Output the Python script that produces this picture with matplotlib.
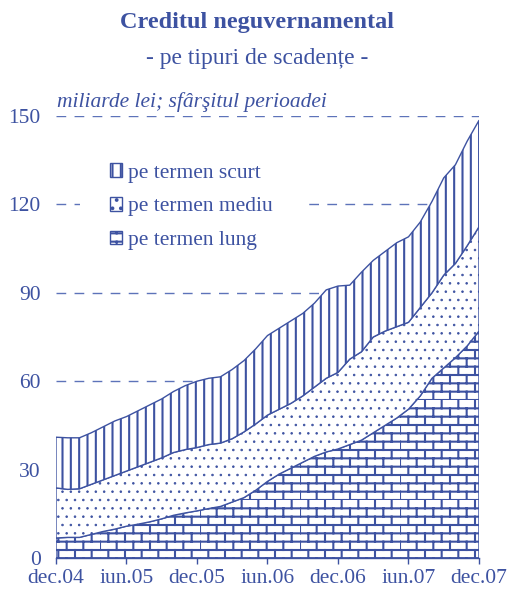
#!/usr/bin/env python3

import numpy as np
import matplotlib
matplotlib.use("Agg")
import matplotlib.pyplot as plt
from matplotlib import hatch as mhatch
from matplotlib.path import Path

# monthly stocks, dec.04 .. dec.07 (bn lei)
months = list(range(37))
tick_labels = ["dec.04", "iun.05", "dec.05", "iun.06", "dec.06", "iun.07", "dec.07"]
lung = [6.8, 7.0, 7.0, 8.0, 9.0, 9.8, 10.8, 11.5, 12.3, 13.3, 14.5, 15.3,
        16.0, 16.8, 17.5, 19.0, 20.5, 23.0, 26.0, 28.5, 30.5, 32.5, 34.5, 36.0,
        37.0, 38.5, 40.0, 42.5, 45.0, 47.5, 50.5, 55.0, 61.0, 64.5, 68.0, 72.0,
        77.0]
mediu = [17.0, 16.3, 16.5, 17.0, 17.5, 18.2, 18.7, 19.5, 20.2, 20.7, 21.3, 21.5,
         21.5, 21.7, 21.5, 21.5, 22.3, 22.5, 22.5, 22.0, 22.0, 22.5, 23.5, 25.0,
         26.0, 29.0, 30.0, 32.5, 32.0, 31.0, 29.5, 30.0, 29.0, 31.5, 32.0, 34.0,
         35.4]
scurt = [17.2, 17.5, 17.3, 17.5, 18.0, 18.5, 18.5, 19.0, 19.5, 20.0, 20.7, 21.7,
         22.5, 22.5, 22.5, 23.5, 24.2, 25.5, 27.0, 27.5, 28.0, 28.0, 28.5, 30.0,
         29.3, 25.1, 27.0, 26.0, 27.0, 28.5, 29.0, 29.0, 31.0, 33.0, 33.5, 35.5,
         36.1]
series_labels = ["pe termen lung", "pe termen mediu", "pe termen scurt"]

BLUE = "#3d52a1"
GRID = "#5d73b9"


class BrickHatch(mhatch.HatchPatternBase):
    # brick wall texture, hooked onto the 'O' hatch character
    rows = 12
    cols = 6

    def __init__(self, hatch, density):
        self.on = hatch.count("O") > 0
        n = self.rows + self.rows * self.cols if self.on else 0
        self.num_vertices = 2 * n

    def set_vertices_and_codes(self, vertices, codes):
        segs = []
        h = 1.0 / self.rows
        w = 1.0 / self.cols
        for r in range(self.rows):
            y = r * h
            segs.append(((0.0, y), (1.0, y)))
            off = 0.5 * w if r % 2 else 0.0
            for c in range(self.cols):
                x = c * w + off
                segs.append(((x, y), (x, y + h)))
        segs = np.array(segs)
        vertices[0::2] = segs[:, 0]
        vertices[1::2] = segs[:, 1]
        codes[0::2] = Path.MOVETO
        codes[1::2] = Path.LINETO


mhatch._hatch_types = [t for t in mhatch._hatch_types
                       if t is not mhatch.LargeCircles] + [BrickHatch]


def main():
    plt.rcParams["font.family"] = ["Liberation Serif", "DejaVu Serif"]
    plt.rcParams["hatch.color"] = BLUE
    plt.rcParams["hatch.linewidth"] = 1.5

    fig = plt.figure(figsize=(5.09, 5.92), dpi=100)
    ax = fig.add_axes([0.110, 0.0574, 0.831, 0.7466])

    x = np.array(months)
    b1 = np.array(lung)
    b2 = b1 + np.array(mediu)
    b3 = b2 + np.array(scurt)

    ax.fill_between(x, 0, b1, facecolor="white", edgecolor=BLUE, hatch="O",
                    linewidth=1.0, label=series_labels[0], zorder=2)
    with plt.rc_context({"hatch.linewidth": 0.6}):
        ax.fill_between(x, b1, b2, facecolor="white", edgecolor=BLUE,
                        hatch="..", linewidth=1.0, label=series_labels[1],
                        zorder=2)
    ax.fill_between(x, b2, b3, facecolor="white", edgecolor=BLUE, hatch="||",
                    linewidth=1.0, label=series_labels[2], zorder=2)

    ax.set_xlim(0, 36)
    ax.set_ylim(0, 150)
    ax.set_yticks([0, 30, 60, 90, 120, 150])
    ax.set_xticks(range(0, 37, 6))
    ax.set_xticklabels(tick_labels)
    ax.yaxis.grid(True, color=GRID, linestyle=(0, (7, 6)), linewidth=1.0)
    ax.set_axisbelow(True)

    for s in ("left", "right", "top"):
        ax.spines[s].set_visible(False)
    ax.spines["bottom"].set_color(BLUE)
    ax.spines["bottom"].set_linewidth(1.0)
    ax.tick_params(axis="y", length=0, pad=11, labelsize=15.5, colors=BLUE)
    ax.tick_params(axis="x", length=4, width=1.0, pad=4, labelsize=15.5,
                   colors=BLUE)

    handles, labels = ax.get_legend_handles_labels()
    leg = ax.legend(handles[::-1], labels[::-1], loc="upper left",
                    bbox_to_anchor=(0.157, 0.775), bbox_transform=fig.transFigure,
                    borderaxespad=0, borderpad=1.4, fontsize=15.5,
                    handlelength=0.55, handleheight=0.6, handletextpad=0.3,
                    labelspacing=0.66, frameon=True, fancybox=False,
                    framealpha=1.0)
    leg.get_frame().set_facecolor("white")
    leg.get_frame().set_edgecolor("none")
    for t in leg.get_texts():
        t.set_color(BLUE)

    fig.text(0.505, 0.962, "Creditul neguvernamental", ha="center", va="center",
             fontsize=17.5, fontweight="bold", color=BLUE)
    fig.text(0.505, 0.901, "- pe tipuri de scadențe -", ha="center", va="center",
             fontsize=17, color=BLUE)
    fig.text(0.112, 0.828, "miliarde lei; sfârşitul perioadei", ha="left",
             va="center", fontsize=15.5, style="italic", color=BLUE)

    fig.savefig("out.png", dpi=100)


if __name__ == "__main__":
    main()
